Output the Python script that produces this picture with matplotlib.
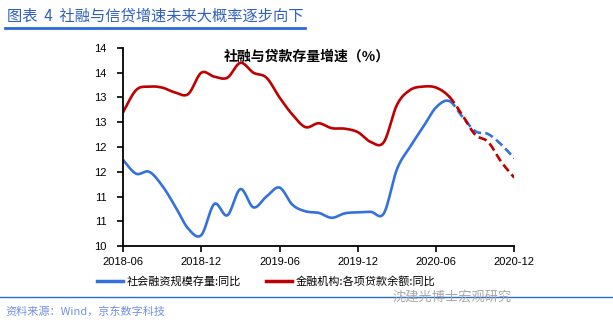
import numpy as np
import matplotlib
matplotlib.use("Agg")
import matplotlib.pyplot as plt
from matplotlib.lines import Line2D

plt.rcParams['font.family'] = ['Noto Sans CJK SC', 'DejaVu Sans']

# monthly, 2018-06 .. 2020-12
months = ['2018-06', '2018-07', '2018-08', '2018-09', '2018-10', '2018-11',
          '2018-12', '2019-01', '2019-02', '2019-03', '2019-04', '2019-05',
          '2019-06', '2019-07', '2019-08', '2019-09', '2019-10', '2019-11',
          '2019-12', '2020-01', '2020-02', '2020-03', '2020-04', '2020-05',
          '2020-06', '2020-07', '2020-08', '2020-09', '2020-10', '2020-11',
          '2020-12']
tsf = [11.74, 11.46, 11.50, 11.22, 10.80, 10.35, 10.22, 10.85, 10.62, 11.15,
       10.78, 11.00, 11.18, 10.83, 10.70, 10.67, 10.57, 10.66, 10.68, 10.69,
       10.66, 11.55, 12.00, 12.40, 12.80, 12.93, 12.62, 12.32, 12.26, 12.05,
       11.77]
loans = [12.70, 13.15, 13.22, 13.20, 13.10, 13.07, 13.50, 13.42, 13.40, 13.70,
         13.50, 13.40, 13.00, 12.65, 12.40, 12.48, 12.38, 12.37, 12.30, 12.10,
         12.10, 12.85, 13.15, 13.22, 13.20, 13.02, 12.65, 12.25, 12.10, 11.70,
         11.38]
forecast_from = '2020-07'
tick_months = ['2018-06', '2018-12', '2019-06', '2019-12', '2020-06', '2020-12']
ytick_vals = [10, 10.5, 11, 11.5, 12, 12.5, 13, 13.5, 14]
ytick_text = ['10', '11', '11', '12', '12', '13', '13', '14', '14']

BLUE = '#3471dc'
RED = '#c00000'


def smooth(x, y, n=20):
    # excel-like smoothed line (catmull-rom bezier)
    x = np.asarray(x, float)
    y = np.asarray(y, float)
    px = np.concatenate([[x[0]], x, [x[-1]]])
    py = np.concatenate([[y[0]], y, [y[-1]]])
    xs, ys = [], []
    t = np.linspace(0, 1, n)
    for i in range(1, len(px) - 2):
        p0 = np.array([px[i], py[i]])
        p3 = np.array([px[i + 1], py[i + 1]])
        p1 = p0 + (p3 - np.array([px[i - 1], py[i - 1]])) / 6
        p2 = p3 - (np.array([px[i + 2], py[i + 2]]) - p0) / 6
        b = (((1 - t) ** 3)[:, None] * p0 + (3 * (1 - t) ** 2 * t)[:, None] * p1
             + (3 * (1 - t) * t ** 2)[:, None] * p2 + (t ** 3)[:, None] * p3)
        xs.extend(b[:, 0])
        ys.extend(b[:, 1])
    return np.array(xs), np.array(ys)


fig = plt.figure(figsize=(6.13, 3.22), dpi=100)
ax = fig.add_axes([0.2007, 0.236, 0.6383, 0.615])

x = np.arange(len(months))
k = months.index(forecast_from)

for vals, col in [(tsf, BLUE), (loans, RED)]:
    sx, sy = smooth(x, vals)
    solid = sx <= k
    dash = sx >= k
    ax.plot(sx[solid], sy[solid], color=col, lw=1.9, solid_capstyle='round')
    ax.plot(sx[dash], sy[dash], color=col, lw=1.9, dashes=(3.2, 1.6))

ax.set_xlim(0, len(months) - 1)
ax.set_ylim(10, 14)
ax.set_xticks([months.index(m) for m in tick_months])
ax.set_xticklabels(tick_months, fontsize=8, family=['Liberation Sans'])
ax.set_yticks(ytick_vals)
ax.set_yticklabels(ytick_text, fontsize=8, family=['Liberation Sans'])
ax.tick_params(direction='out', length=4, width=1.2)
ax.tick_params(axis='x', pad=4)
ax.tick_params(axis='y', pad=8)
for s in ['top', 'right']:
    ax.spines[s].set_visible(False)
for s in ['left', 'bottom']:
    ax.spines[s].set_linewidth(1.3)

ax.text(0.47, 0.955, '社融与贷款存量增速（%）', transform=ax.transAxes,
        ha='center', va='center', fontsize=10, fontweight='bold')

handles = [Line2D([], [], color=BLUE, lw=2.5), Line2D([], [], color=RED, lw=2.5)]
fig.legend(handles, ['社会融资规模存量:同比', '金融机构:各项贷款余额:同比'],
           loc='center', bbox_to_anchor=(266 / 613, 1 - 281 / 322), ncol=2,
           frameon=False, fontsize=8, handlelength=2.4, columnspacing=2.2,
           handletextpad=0.3)

fig.text(7 / 613, 1 - 16 / 322, '图表  4  社融与信贷增速未来大概率逐步向下',
         color='#2f5fc4', fontsize=11, ha='left', va='center')
fig.add_artist(Line2D([5 / 613, 305 / 613], [1 - 27.5 / 322, 1 - 27.5 / 322],
                      color='#2c6ad8', lw=2))
fig.add_artist(Line2D([0, 1], [1 - 297 / 322, 1 - 297 / 322],
                      color='#2c6ad8', lw=1))
fig.text(5 / 613, 1 - 311 / 322, '资料来源：Wind，京东数字科技',
         color='#7090e8', fontsize=8, ha='left', va='center')
fig.text(512 / 613, 1 - 297 / 322, '沈建光博士宏观研究', color='#a8a8a8',
         fontsize=9.5, ha='right', va='center')

fig.savefig('out.png', dpi=100)
